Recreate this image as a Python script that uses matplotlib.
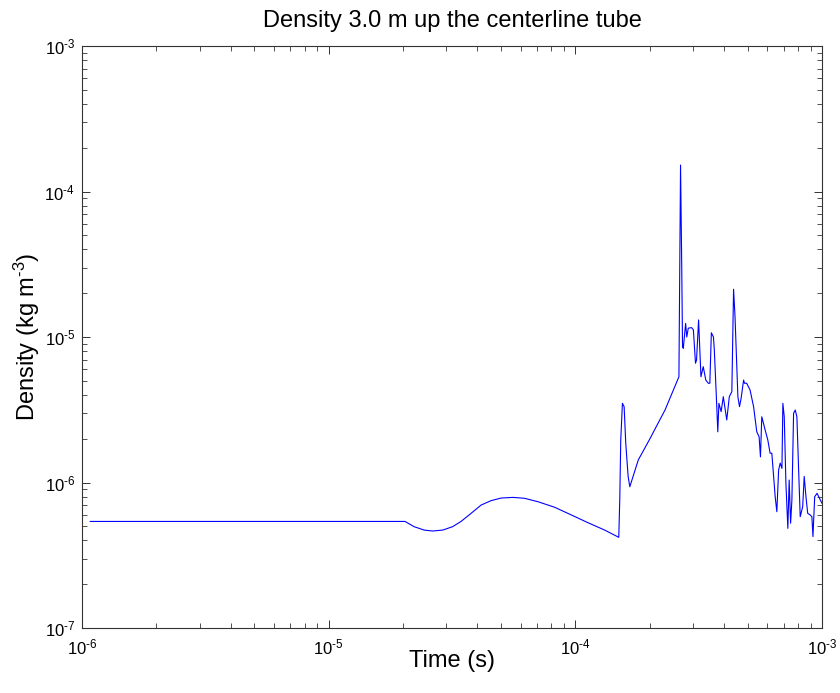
import numpy as np
import matplotlib
matplotlib.use("Agg")
import matplotlib.pyplot as plt
from matplotlib.ticker import FuncFormatter

# Fonte parecida com Arial (estilo MATLAB)
plt.rcParams['font.family'] = ['Liberation Sans', 'DejaVu Sans']
plt.rcParams['mathtext.fontset'] = 'custom'
plt.rcParams['mathtext.rm'] = 'Liberation Sans'
plt.rcParams['mathtext.it'] = 'Liberation Sans:italic'

# Dados: tempo (s) e densidade (kg m^-3)
# trecho inicial (plato, vale e corcova)
t_inicio = [1.08e-6, 2.04e-5, 2.22e-5, 2.44e-5, 2.64e-5, 2.90e-5, 3.18e-5, 3.44e-5,
            3.78e-5, 4.15e-5, 4.55e-5, 5.0e-5, 5.58e-5, 6.22e-5, 7.05e-5, 8.24e-5,
            9.64e-5, 1.126e-4, 1.315e-4, 1.50e-4]
rho_inicio = [5.4e-7, 5.4e-7, 4.97e-7, 4.71e-7, 4.64e-7, 4.71e-7, 4.97e-7, 5.4e-7,
              6.14e-7, 7.0e-7, 7.5e-7, 7.82e-7, 7.9e-7, 7.79e-7, 7.38e-7, 6.76e-7,
              5.98e-7, 5.29e-7, 4.71e-7, 4.2e-7]

# primeiro choque e subida
t_choque = [1.514e-4, 1.528e-4, 1.552e-4, 1.577e-4, 1.601e-4, 1.637e-4,
            1.663e-4, 1.80e-4, 1.994e-4, 2.31e-4, 2.63e-4]
rho_choque = [7.59e-7, 1.96e-6, 3.50e-6, 3.32e-6, 1.86e-6, 1.10e-6,
              9.35e-7, 1.43e-6, 1.96e-6, 3.15e-6, 5.33e-6]

# pico e regiao turbulenta
t_turb = [2.67e-4, 2.70e-4, 2.72e-4, 2.74e-4, 2.80e-4, 2.83e-4, 2.87e-4, 2.96e-4, 3.01e-4, 3.07e-4,
          3.10e-4, 3.16e-4, 3.23e-4, 3.30e-4, 3.38e-4, 3.46e-4, 3.51e-4, 3.56e-4, 3.63e-4, 3.66e-4,
          3.74e-4, 3.78e-4, 3.82e-4, 3.90e-4, 3.98e-4, 4.11e-4, 4.21e-4, 4.31e-4, 4.38e-4, 4.44e-4,
          4.56e-4, 4.63e-4, 4.70e-4, 4.81e-4, 4.85e-4, 4.95e-4, 5.11e-4, 5.28e-4, 5.44e-4, 5.56e-4,
          5.63e-4, 5.70e-4, 5.88e-4, 6.03e-4, 6.16e-4, 6.26e-4, 6.46e-4, 6.56e-4, 6.67e-4, 6.77e-4,
          6.88e-4, 6.94e-4, 7.03e-4, 7.14e-4, 7.27e-4, 7.36e-4, 7.46e-4, 7.55e-4, 7.67e-4, 7.79e-4,
          7.91e-4, 8.04e-4, 8.16e-4, 8.35e-4, 8.47e-4, 8.61e-4, 8.75e-4, 8.96e-4, 9.10e-4, 9.19e-4,
          9.34e-4, 9.55e-4, 9.84e-4, 1.0e-3]
rho_turb = [1.52e-4, 3.04e-5, 8.57e-6, 8.36e-6, 1.24e-5, 1.0e-5, 1.15e-5, 1.16e-5, 1.12e-5, 6.6e-6,
            6.95e-6, 1.31e-5, 5.33e-6, 6.25e-6, 5.06e-6, 4.81e-6, 4.81e-6, 1.07e-5, 1.0e-5, 8.14e-6,
            3.50e-6, 2.23e-6, 3.50e-6, 3.07e-6, 3.89e-6, 2.69e-6, 3.89e-6, 4.21e-6, 2.13e-5, 1.38e-5,
            3.89e-6, 3.32e-6, 3.79e-6, 5.06e-6, 4.81e-6, 4.81e-6, 4.32e-6, 3.32e-6, 2.23e-6, 2.06e-6,
            1.50e-6, 2.83e-6, 2.30e-6, 1.96e-6, 1.59e-6, 1.59e-6, 7.98e-7, 6.30e-7, 1.22e-6, 1.36e-6,
            1.25e-6, 3.50e-6, 2.83e-6, 9.87e-7, 4.84e-7, 1.04e-6, 5.25e-7, 7.59e-7, 2.99e-6, 3.15e-6,
            2.83e-6, 1.22e-6, 5.82e-7, 6.82e-7, 1.10e-6, 7.98e-7, 6.14e-7, 5.98e-7, 5.82e-7, 4.25e-7,
            7.98e-7, 8.43e-7, 7.59e-7, 7.2e-7]

tempo = np.array(t_inicio + t_choque + t_turb)
densidade = np.array(rho_inicio + rho_choque + rho_turb)


def pot10(v, pos):
    # rotulo tipo MATLAB: 10 com expoente usando hifen curto
    e = int(round(np.log10(v)))
    if e < 0:
        return r'$10^{\text{-}%d}$' % (-e)
    return r'$10^{%d}$' % e


fig = plt.figure(figsize=(8.4, 6.93), dpi=100)
ax = fig.add_axes([82 / 840, 1 - 628 / 693, 740 / 840, 582 / 693])

ax.loglog(tempo, densidade, color='#0000ff', lw=0.8)

ax.set_xlim(1e-6, 1e-3)
ax.set_ylim(1e-7, 1e-3)
ax.xaxis.set_major_formatter(FuncFormatter(pot10))
ax.yaxis.set_major_formatter(FuncFormatter(pot10))

# Estilo MATLAB: ticks para dentro nos quatro lados
ax.tick_params(which='both', direction='in', top=True, right=True,
               color='#333333', labelsize=12)
ax.tick_params(which='major', length=5.5, width=0.7)
ax.tick_params(axis='x', which='major', pad=7)
ax.tick_params(axis='y', which='major', pad=5)
ax.tick_params(which='minor', length=3.5, width=0.6)
for s in ax.spines.values():
    s.set_linewidth(0.8)
    s.set_color('#333333')

ax.set_title("Density 3.0 m up the centerline tube", fontsize=17, pad=13.5)
ax.set_xlabel("Time (s)", fontsize=17)
ax.set_ylabel("Density (kg m$^{\\text{-}3}$)", fontsize=17)
ax.xaxis.set_label_coords(0.5, -0.037)
ax.yaxis.set_label_coords(-0.054, 0.5)

plt.savefig("out.png", dpi=100)
